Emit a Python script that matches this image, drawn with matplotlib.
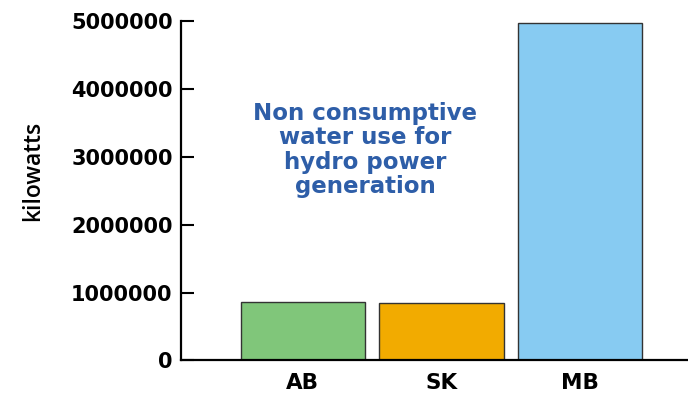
import matplotlib
matplotlib.use('Agg')
import matplotlib.pyplot as plt
from matplotlib.ticker import FixedLocator

# hydro power generation by province
provinces = ['AB', 'SK', 'MB']
kilowatts = [855000, 840000, 4970000]
colors    = ['#80c67a', '#f2ab00', '#87cbf2']
yticks    = [0, 1000000, 2000000, 3000000, 4000000, 5000000]

plt.rcParams['font.family'] = 'DejaVu Sans'

fig = plt.figure(figsize=(6.88, 3.93), dpi=100)
ax = fig.add_axes([0.263, 0.0827, 0.737, 0.8645])

x = range(len(provinces))
ax.bar(x, kilowatts, width=0.9, color=colors, edgecolor='#333333', linewidth=1.0, zorder=2)

ax.set_xlim(-0.88, 2.78)
ax.set_ylim(0, 5000000)
ax.yaxis.set_major_locator(FixedLocator(yticks))
ax.set_yticklabels([str(v) for v in yticks], fontsize=15, fontweight='bold')
ax.set_xticks(list(x))
ax.set_xticklabels(provinces, fontsize=15.5, fontweight='bold')

ax.tick_params(axis='y', direction='in', length=9.5, width=1.5, pad=6)
ax.tick_params(axis='x', length=0, pad=9)

for s in ['top', 'right']:
    ax.spines[s].set_visible(False)
ax.spines['left'].set_linewidth(1.6)
ax.spines['bottom'].set_linewidth(1.6)

ax.set_ylabel('kilowatts', fontsize=16.5, family='Open Sans', fontweight='semibold')
ax.yaxis.set_label_coords(-0.268, 0.557)

ax.text(0.45, 3100000, 'Non consumptive\nwater use for\nhydro power\ngeneration',
        ha='center', va='center', fontsize=16.5, fontweight='bold', color='#2e5ea8',
        linespacing=1.08)

fig.savefig('out.png', dpi=100)
